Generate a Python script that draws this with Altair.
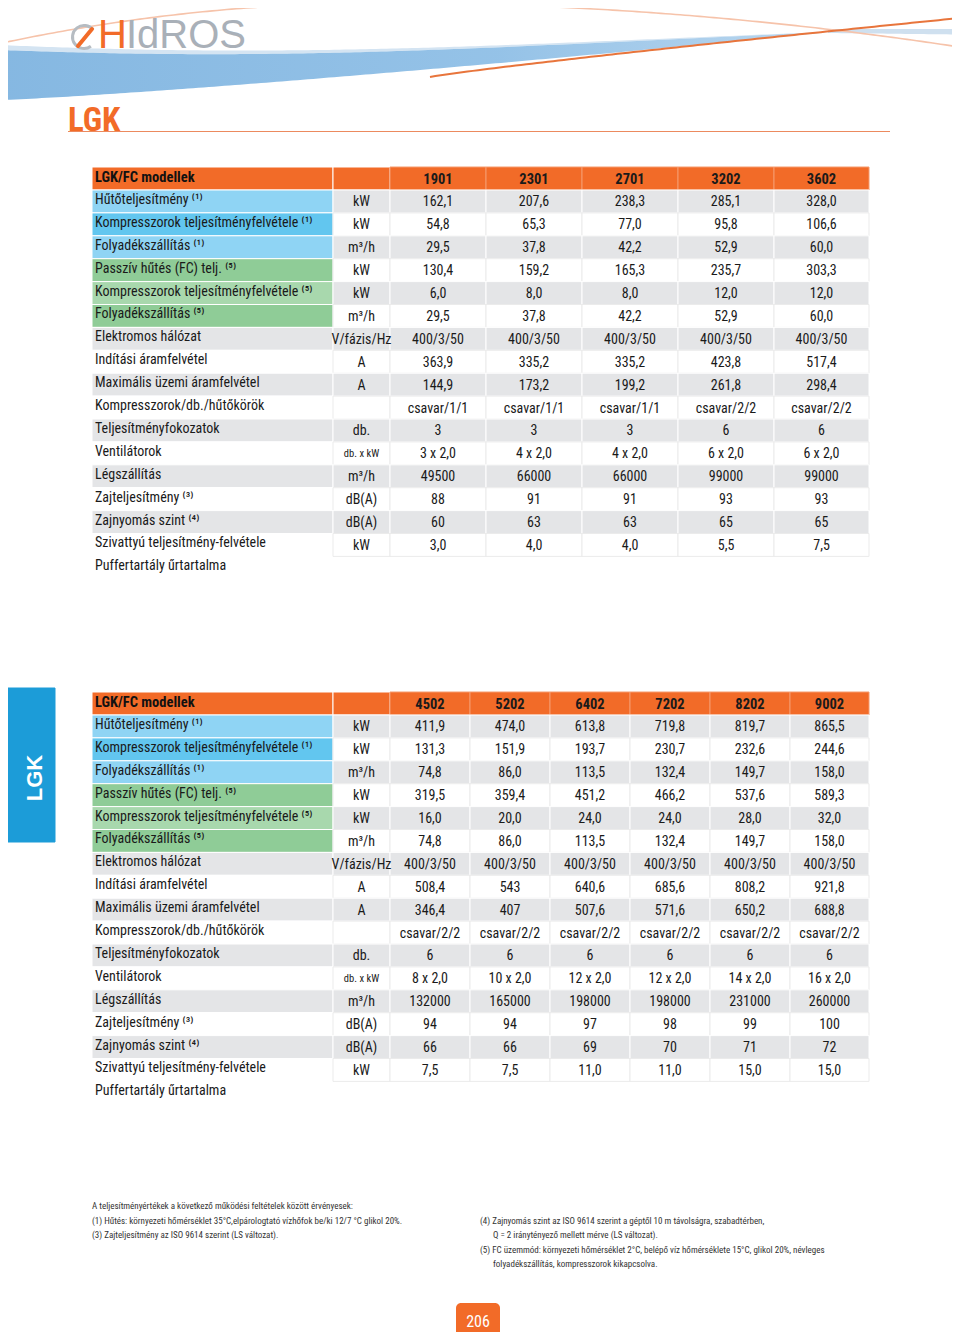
import altair as alt
import pandas as pd
import numpy as np

# ---------------- data ----------------
row_labels = [
    "Hűtőteljesítmény ⁽¹⁾",
    "Kompresszorok teljesítményfelvétele ⁽¹⁾",
    "Folyadékszállítás ⁽¹⁾",
    "Passzív hűtés (FC) telj. ⁽⁵⁾",
    "Kompresszorok teljesítményfelvétele ⁽⁵⁾",
    "Folyadékszállítás ⁽⁵⁾",
    "Elektromos hálózat",
    "Indítási áramfelvétel",
    "Maximális üzemi áramfelvétel",
    "Kompresszorok/db./hűtőkörök",
    "Teljesítményfokozatok",
    "Ventilátorok",
    "Légszállítás",
    "Zajteljesítmény  ⁽³⁾",
    "Zajnyomás szint ⁽⁴⁾",
    "Szivattyú teljesítmény-felvétele",
    "Puffertartály űrtartalma",
]
units = ["kW", "kW", "m³/h", "kW", "kW", "m³/h", "V/fázis/Hz", "A", "A", "",
         "db.", "db. x kW", "m³/h", "dB(A)", "dB(A)", "kW", ""]

models_1 = ["1901", "2301", "2701", "3202", "3602"]
values_1901 = ["162,1", "54,8", "29,5", "130,4", "6,0", "29,5", "400/3/50", "363,9", "144,9", "csavar/1/1", "3", "3 x 2,0", "49500", "88", "60", "3,0"]
values_2301 = ["207,6", "65,3", "37,8", "159,2", "8,0", "37,8", "400/3/50", "335,2", "173,2", "csavar/1/1", "3", "4 x 2,0", "66000", "91", "63", "4,0"]
values_2701 = ["238,3", "77,0", "42,2", "165,3", "8,0", "42,2", "400/3/50", "335,2", "199,2", "csavar/1/1", "3", "4 x 2,0", "66000", "91", "63", "4,0"]
values_3202 = ["285,1", "95,8", "52,9", "235,7", "12,0", "52,9", "400/3/50", "423,8", "261,8", "csavar/2/2", "6", "6 x 2,0", "99000", "93", "65", "5,5"]
values_3602 = ["328,0", "106,6", "60,0", "303,3", "12,0", "60,0", "400/3/50", "517,4", "298,4", "csavar/2/2", "6", "6 x 2,0", "99000", "93", "65", "7,5"]

models_2 = ["4502", "5202", "6402", "7202", "8202", "9002"]
values_4502 = ["411,9", "131,3", "74,8", "319,5", "16,0", "74,8", "400/3/50", "508,4", "346,4", "csavar/2/2", "6", "8 x 2,0", "132000", "94", "66", "7,5"]
values_5202 = ["474,0", "151,9", "86,0", "359,4", "20,0", "86,0", "400/3/50", "543", "407", "csavar/2/2", "6", "10 x 2,0", "165000", "94", "66", "7,5"]
values_6402 = ["613,8", "193,7", "113,5", "451,2", "24,0", "113,5", "400/3/50", "640,6", "507,6", "csavar/2/2", "6", "12 x 2,0", "198000", "97", "69", "11,0"]
values_7202 = ["719,8", "230,7", "132,4", "466,2", "24,0", "132,4", "400/3/50", "685,6", "571,6", "csavar/2/2", "6", "12 x 2,0", "198000", "98", "70", "11,0"]
values_8202 = ["819,7", "232,6", "149,7", "537,6", "28,0", "149,7", "400/3/50", "808,2", "650,2", "csavar/2/2", "6", "14 x 2,0", "231000", "99", "71", "15,0"]
values_9002 = ["865,5", "244,6", "158,0", "589,3", "32,0", "158,0", "400/3/50", "921,8", "688,8", "csavar/2/2", "6", "16 x 2,0", "260000", "100", "72", "15,0"]

table_title = "LGK/FC modellek"
page_title = "LGK"
page_number = "206"
brand_first = "H"
brand_rest = "IdROS"
footnotes_left = [
    "A teljesítményértékek a következő működési feltételek között érvényesek:",
    "(1)  Hűtés: környezeti hőmérséklet 35°C,elpárologtató vízhőfok be/ki 12/7 °C glikol 20%.",
    "(3)  Zajteljesítmény az ISO 9614 szerint (LS változat).",
]
footnotes_right = [
    "(4)  Zajnyomás szint az ISO 9614 szerint a géptől 10 m távolságra, szabadtérben,",
    "Q = 2 iránytényező mellett mérve (LS változat).",
    "(5)  FC üzemmód: környezeti hőmérséklet 2°C, belépő víz hőmérséklete 15°C, glikol 20%, névleges",
    "folyadékszállítás, kompresszorok kikapcsolva.",
]

# ---------------- styling / layout ----------------
FONT = "'Liberation Sans Narrow', 'Arial Narrow', 'Roboto Condensed', 'Liberation Sans', sans-serif"
ORANGE = "#f26b28"
GREY = "#e4e5e7"
WHITE = "#ffffff"
label_fill = {0: "#8fd4f4", 1: "#62c6ef", 2: "#8fd4f4", 3: "#8fcc97", 4: "#a8d8ad", 5: "#8fcc97"}

ROW_H = 22.9
rects, t_left, t_center, t_bold_c, t_bold_l = [], [], [], [], []


def build_table(top, models, columns, edges):
    rects.append(dict(x=92, x2=333, y=top, y2=top + 23, fill=ORANGE, stroke=WHITE))
    rects.append(dict(x=333, x2=390, y=top, y2=top + 23, fill=ORANGE, stroke=WHITE))
    t_bold_l.append(dict(x=95, y=top + 11, text=table_title, fs=14.5, color="#111111"))
    for j, m in enumerate(models):
        rects.append(dict(x=edges[j], x2=edges[j + 1], y=top, y2=top + 23, fill=ORANGE, stroke="#f59a6c"))
        t_bold_c.append(dict(x=(edges[j] + edges[j + 1]) / 2, y=top + 13, text=m, fs=14.5, color="#1a1a1a"))
    y0 = top + 23
    for i in range(len(row_labels)):
        ry, ry2 = y0 + i * ROW_H, y0 + (i + 1) * ROW_H
        cy = (ry + ry2) / 2
        t_left.append(dict(x=95, y=cy - 1.5, text=row_labels[i], fs=14, color="#1a1a1a"))
        if i >= len(columns[0]):
            continue
        stripe = GREY if i % 2 == 0 else WHITE
        sline = WHITE if i % 2 == 0 else "#ebebeb"
        rects.append(dict(x=92, x2=333, y=ry, y2=ry2, fill=label_fill.get(i, stripe), stroke=WHITE))
        rects.append(dict(x=333, x2=390, y=ry, y2=ry2, fill=stripe, stroke=sline))
        ufs = 10.5 if units[i] == "db. x kW" else 14
        t_center.append(dict(x=361.5, y=cy + 1, text=units[i], fs=ufs, color="#1a1a1a"))
        for j, col in enumerate(columns):
            rects.append(dict(x=edges[j], x2=edges[j + 1], y=ry, y2=ry2, fill=stripe, stroke=sline))
            t_center.append(dict(x=(edges[j] + edges[j + 1]) / 2, y=cy + 1, text=col[i], fs=14, color="#1a1a1a"))


build_table(167, models_1, [values_1901, values_2301, values_2701, values_3202, values_3602],
            [390, 486, 582, 678, 774, 869])
build_table(692, models_2, [values_4502, values_5202, values_6402, values_7202, values_8202, values_9002],
            [390, 470, 550, 630, 710, 790, 869])

# side tab
rects.append(dict(x=0, x2=55, y=688, y2=842, fill="#1c9cd8", stroke="#1c9cd8"))
rects_df = pd.DataFrame(rects)
pn_df = pd.DataFrame([dict(x=456, x2=500, y=1303, y2=1340, fill=ORANGE)])

# footnotes
for k, line in enumerate(footnotes_left):
    t_left.append(dict(x=92, y=[1206, 1221, 1235][k], text=line, fs=9, color="#333333"))
for k, line in enumerate(footnotes_right):
    t_left.append(dict(x=[480, 493, 480, 493][k], y=[1221, 1235, 1250, 1264][k], text=line, fs=9, color="#333333"))

t_center.append(dict(x=478, y=1322, text=page_number, fs=16, color="#ffffff"))
t_bold_l.append(dict(x=68, y=121, text=page_title, fs=33, color=ORANGE))

# ---------------- header decoration (computed curves) ----------------
xs = np.linspace(0, 830, 160)
t = xs / 830
top_edge = 50 - 18 * t ** 2 + 10 * np.sin(np.pi * t) * (1 - t)
bot_edge = 100 - 68 * t ** 1.2
band_light = pd.DataFrame(dict(x=xs, y=top_edge - 5 * (1 - t), y2=top_edge))
band = pd.DataFrame(dict(x=xs, y=top_edge, y2=bot_edge))
xs2 = np.linspace(828, 960, 30)
band2 = pd.DataFrame(dict(x=xs2, y=29 + 0 * xs2, y2=33 + 1.5 * (xs2 - 828) / 132))

xp = np.linspace(0, 960, 200)
pale = np.where(xp < 380, 3 + 2.8e-4 * (xp - 380) ** 2, 3 + 1.31e-4 * (xp - 380) ** 2)
xd = np.linspace(430, 960, 100)
dark = 77 - 59 * ((xd - 430) / 530) ** 0.9
lines_df = pd.concat([
    pd.DataFrame(dict(x=xp, y=pale, g="pale", c="#f6c3aa", w=1.6)),
    pd.DataFrame(dict(x=xd, y=dark, g="dark", c="#e8753c", w=2.0)),
])
underline_df = pd.DataFrame(dict(x=[68], x2=[890], y=[131.5]))

logo_df = pd.DataFrame([
    dict(x=98, y=36, text=brand_first, fs=40, color=ORANGE),
    dict(x=126, y=36, text=brand_rest, fs=40, color="#a9b0b8"),
])
icon_ring = pd.DataFrame(dict(x=[84], y=[37]))
icon_leaf = pd.DataFrame(dict(x=[78], y=[46], x2=[92], y2=[29]))
tab_df = pd.DataFrame([dict(x=35, y=778, text=page_title, fs=22, color="#ffffff")])

# ---------------- scales ----------------
X = alt.Scale(domain=[8, 952], nice=False, zero=False)
Y = alt.Scale(domain=[8, 1332], nice=False, zero=False, reverse=True)


def xe(f="x"):
    return alt.X(f + ":Q", scale=X, axis=None)


def ye(f="y"):
    return alt.Y(f + ":Q", scale=Y, axis=None)


blue_light = alt.Chart(band_light).mark_area(color="#d4e4f2").encode(x=xe(), y=ye(), y2="y2:Q")
blue = alt.Chart(band).mark_area(
    color=alt.Gradient(gradient="linear", x1=0, x2=1, y1=0, y2=0,
                       stops=[alt.GradientStop(color="#7fb4e0", offset=0),
                              alt.GradientStop(color="#8fbfe6", offset=0.6),
                              alt.GradientStop(color="#b7d5ee", offset=1)]),
    opacity=0.95).encode(x=xe(), y=ye(), y2="y2:Q")
blue2 = alt.Chart(band2).mark_area(color="#cfe0ef").encode(x=xe(), y=ye(), y2="y2:Q")
curves = alt.Chart(lines_df).mark_line().encode(
    x=xe(), y=ye(), detail="g:N",
    color=alt.Color("c:N", scale=None),
    strokeWidth=alt.StrokeWidth("w:Q", scale=None))
underline = alt.Chart(underline_df).mark_rule(color="#ec8a5e", strokeWidth=1).encode(
    x=xe(), x2="x2:Q", y=ye())

ring = alt.Chart(icon_ring).mark_arc(
    radius=13, radius2=10, theta=2.5, theta2=7.2, color="#b6bcc2").encode(x=xe(), y=ye())
leaf = alt.Chart(icon_leaf).mark_rule(color=ORANGE, strokeWidth=4, strokeCap="round").encode(
    x=xe(), y=ye(), x2="x2:Q", y2="y2:Q")

cells = alt.Chart(rects_df).mark_rect(strokeWidth=1).encode(
    x=xe(), x2="x2:Q", y=ye(), y2="y2:Q",
    fill=alt.Fill("fill:N", scale=None), stroke=alt.Stroke("stroke:N", scale=None))
pnbox = alt.Chart(pn_df).mark_rect(cornerRadiusTopLeft=5, cornerRadiusTopRight=5).encode(
    x=xe(), x2="x2:Q", y=ye(), y2="y2:Q", fill=alt.Fill("fill:N", scale=None))


def text_layer(df, align="left", weight="normal", angle=0, font=FONT):
    return alt.Chart(pd.DataFrame(df)).mark_text(
        align=align, baseline="middle", fontWeight=weight, angle=angle, font=font
    ).encode(x=xe(), y=ye(), text="text:N",
             size=alt.Size("fs:Q", scale=None), color=alt.Color("color:N", scale=None))


chart = alt.layer(
    blue_light, blue, blue2, curves, underline, ring, leaf, cells, pnbox,
    text_layer(t_left, "left"),
    text_layer(t_center, "center"),
    text_layer(t_bold_c, "center", "bold"),
    text_layer(t_bold_l, "left", "bold"),
    text_layer(logo_df, "left", font="'Liberation Sans', sans-serif"),
    text_layer(tab_df, "center", "bold", angle=270, font="'Liberation Sans', sans-serif"),
).properties(
    width=944, height=1324, padding=0, autosize=alt.AutoSizeParams(type="none"),
).configure_view(stroke=None)

chart.save("out.html", embed_options={"renderer": "svg", "actions": False})
